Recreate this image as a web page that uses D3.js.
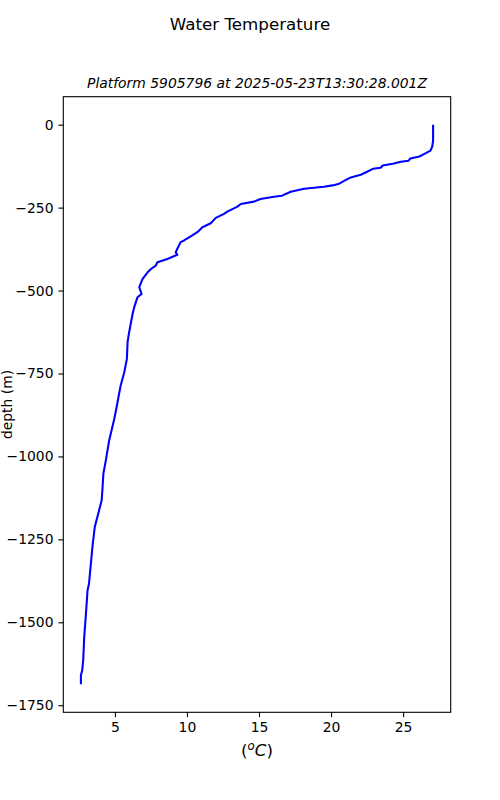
<!DOCTYPE html>
<html><head><meta charset="utf-8">
<script src="https://cdn.jsdelivr.net/npm/d3@7"></script>
<style>body{margin:0;background:#fff}text{font-family:"DejaVu Sans",sans-serif;fill:#000}</style>
</head><body>
<script>
const chartTitle = "Water Temperature";
const subTitle = "Platform 5905796 at 2025-05-23T13:30:28.001Z";
const temperature = [27.08,27.08,27.02,26.9,26.48,26.13,25.5,25.37,24.84,24.28,23.58,23.44,22.9,22.5,22.06,21.37,21.0,20.5,20.1,19.5,18.13,17.2,16.6,16.04,15.1,14.65,13.73,13.5,12.8,12.57,12.0,11.65,11.07,10.72,10.26,9.8,9.56,9.33,9.22,9.33,8.64,7.95,7.83,7.5,7.27,6.92,6.69,6.85,6.57,6.34,6.23,5.97,5.88,5.83,5.65,5.4,5.12,4.93,4.6,4.37,4.2,4.13,4.08,3.9,3.6,3.44,3.29,3.2,3.1,2.99,2.87,2.8,2.73,2.64,2.64];
const depth = [0,-48,-66,-78,-88,-96,-102,-109,-112,-118,-123,-130,-133,-142,-151,-159,-167,-179,-183,-187,-193,-202,-214,-217,-224,-232,-239,-247,-262,-269,-281,-297,-309,-324,-337,-349,-354,-374,-385,-392,-405,-415,-425,-435,-445,-465,-490,-510,-520,-550,-570,-630,-655,-706,-746,-786,-851,-892,-952,-1012,-1052,-1102,-1132,-1163,-1213,-1273,-1343,-1384,-1404,-1474,-1544,-1614,-1645,-1660,-1687];
const xTicks = [5,10,15,20,25];
const yTicks = [0,-250,-500,-750,-1000,-1250,-1500,-1750];

const W=500,H=800, L=63.3, R=450.7, T=96.7, B=712.3;
const svg=d3.select("body").append("svg").attr("width",W).attr("height",H);
const pad=(e)=>{const s=e[1]-e[0];return [e[0]-0.05*s,e[1]+0.05*s];};
const x=d3.scaleLinear().domain(pad(d3.extent(temperature))).range([L,R]);
const y=d3.scaleLinear().domain(pad(d3.extent(depth))).range([B,T]);
const fmt=v=>String(v).replace("-","\u2212");

const line=d3.line().x((d,i)=>x(temperature[i])).y((d,i)=>y(depth[i]));
svg.append("path").datum(depth).attr("d",line).attr("fill","none").attr("stroke","#0000ff").attr("stroke-width",2.08).attr("stroke-linejoin","round");

const xa=svg.append("g").attr("transform",`translate(0,${B})`).call(d3.axisBottom(x).tickValues(xTicks).tickFormat(fmt).tickSize(4.9).tickPadding(4.9));
const ya=svg.append("g").attr("transform",`translate(${L},0)`).call(d3.axisLeft(y).tickValues(yTicks).tickFormat(fmt).tickSize(4.9).tickPadding(4.9));
[xa,ya].forEach(g=>{g.select(".domain").remove();g.selectAll("line").attr("stroke","#000").attr("stroke-width",1.1);g.selectAll("text").attr("font-family","DejaVu Sans").attr("font-size",13.9).attr("fill","#000");});
svg.append("rect").attr("x",L).attr("y",T).attr("width",R-L).attr("height",B-T).attr("fill","none").attr("stroke","#000").attr("stroke-width",1.1);

svg.append("text").attr("x",250).attr("y",30).attr("text-anchor","middle").attr("font-size",16.7).text(chartTitle);
svg.append("text").attr("x",(L+R)/2).attr("y",87.5).attr("text-anchor","middle").attr("font-size",13.9).attr("font-style","italic").text(subTitle);
const xl=svg.append("text").attr("x",(L+R)/2).attr("y",756).attr("text-anchor","middle").attr("font-size",16.7);
xl.append("tspan").text("(");
xl.append("tspan").attr("font-style","italic").attr("font-size",11.7).attr("dy",-6).text("o");
xl.append("tspan").attr("font-style","italic").attr("dy",6).text("C");
xl.append("tspan").text(")");
svg.append("text").attr("transform",`translate(11.5,${(T+B)/2}) rotate(-90)`).attr("text-anchor","middle").attr("font-size",13.9).text("depth (m)");
</script>
</body></html>
